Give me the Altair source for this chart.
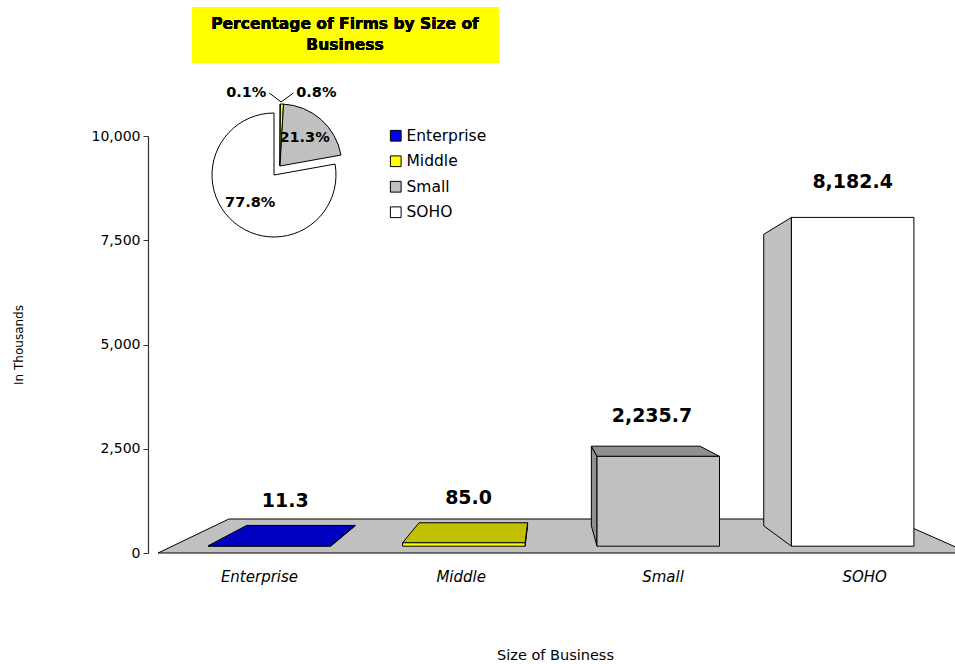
import json
import math
import altair as alt
import pandas as pd

# ---------------- data ----------------
categories = ["Enterprise", "Middle", "Small", "SOHO"]
firms_thousands = [11.3, 85.0, 2235.7, 8182.4]
face_colors = ["#0000ff", "#ffff00", "#c0c0c0", "#ffffff"]
shade_colors = ["#0000c0", "#c0c000", "#909090", "#c0c0c0"]
y_ticks = [0, 2500, 5000, 7500, 10000]
pie_title = ["Percentage of Firms by Size of", "Business"]

# ---------------- layout / style ----------------
W, H = 807, 417
PAD_L, PAD_T = 148, 136
Y_MAX = 10000
K = 0.182          # perspective shrink with depth
C0 = 0.36          # horizontal drift of the back plane (slot units)
DEPTH = 815        # floor depth expressed in value units
T_F, T_B = 0.2, 0.8
BAR_W = 0.63
SLOT_C = 0.55
FLOOR_L, FLOOR_R = 0.05, 4.07
LINE = "#000000"
FONT = "DejaVu Sans"


def px(xu, t):
    return xu * (1 - K * t) + C0 * t


def pv(v, t):
    return v * (1 - K * t) + DEPTH * t


# floor
floor_df = pd.DataFrame([
    {"y": pv(0, t), "x": px(FLOOR_L, t), "x2": px(FLOOR_R, t)} for t in (0.0, 1.0)
])

front_rows, side_rows, top_rows = [], [], []
for i, (cat, v) in enumerate(zip(categories, firms_thousands)):
    c = i + SLOT_C
    xl, xr = c - BAR_W / 2, c + BAR_W / 2
    top_visible = v < DEPTH / K
    t_lab = 0.5 if top_visible else T_F
    front_rows.append({"cat": cat, "value": v, "fill": face_colors[i],
                       "x": px(xl, T_F), "x2": px(xr, T_F),
                       "y": pv(0, T_F), "y2": pv(v, T_F),
                       "lx": px(c, t_lab), "ly": pv(v, t_lab)})
    xs = xl if c > C0 / K else xr
    for t in (T_F, T_B):
        side_rows.append({"cat": cat, "shade": shade_colors[i], "x": px(xs, t),
                          "y": pv(0, t), "y2": pv(v, t)})
    if top_visible:
        for t in (T_F, T_B):
            top_rows.append({"cat": cat, "shade": shade_colors[i], "y": pv(v, t),
                             "x": px(xl, t), "x2": px(xr, t)})

front_df = pd.DataFrame(front_rows)
side_df = pd.DataFrame(side_rows)
top_df = pd.DataFrame(top_rows)

label_expr = f"{json.dumps(categories)}[round(datum.value - {SLOT_C})]"
x_axis = alt.Axis(values=[i + SLOT_C for i in range(len(categories))], labelExpr=label_expr,
                  domain=False, ticks=False, grid=False, labelAngle=0,
                  labelFont=FONT, labelFontStyle="italic", labelFontSize=15,
                  labelColor="black", labelPadding=16, labelFlush=False, labelOverlap=False,
                  title="Size of Business", titleFont=FONT, titleFontSize=14.5,
                  titleFontWeight="normal", titleColor="black",
                  titleX=407, titleY=102, titleBaseline="middle", titleAlign="center")
y_axis = alt.Axis(values=y_ticks, format=",.0f", grid=False,
                  domainColor="#333333", tickColor="#333333", tickSize=5, domainWidth=1.2,
                  labelFont=FONT, labelFontSize=14, labelColor="black", labelPadding=3,
                  title="In Thousands", titleFont=FONT, titleFontSize=12,
                  titleFontWeight="normal", titleColor="black", titleAngle=-90,
                  titleX=-130, titleY=H / 2, titleAlign="center", titleBaseline="middle")

xs_scale = alt.Scale(domain=[0, 4], nice=False, zero=False)
ys_scale = alt.Scale(domain=[0, Y_MAX], nice=False)


def X(field="x"):
    return alt.X(f"{field}:Q", scale=xs_scale, axis=x_axis, stack=None, title="Size of Business")


def Y(field="y"):
    return alt.Y(f"{field}:Q", scale=ys_scale, axis=y_axis, stack=None, title="In Thousands")


floor = alt.Chart(floor_df).mark_area(orient="horizontal", fill="#c0c0c0", stroke=LINE,
                                      strokeWidth=1).encode(
    y=Y(), x=X(), x2="x2:Q")

sides = alt.Chart(side_df).mark_area(orient="vertical", stroke=LINE, strokeWidth=1).encode(
    x=X(), y=Y(), y2="y2:Q", detail="cat:N", fill=alt.Fill("shade:N", scale=None))

tops = alt.Chart(top_df).mark_area(orient="horizontal", stroke=LINE, strokeWidth=1).encode(
    y=Y(), x=X(), x2="x2:Q", detail="cat:N", fill=alt.Fill("shade:N", scale=None))

fronts = alt.Chart(front_df).mark_rect(stroke=LINE, strokeWidth=1).encode(
    x=X(), x2="x2:Q", y=Y(), y2="y2:Q", fill=alt.Fill("fill:N", scale=None))

value_labels = alt.Chart(front_df).mark_text(font=FONT, fontWeight="bold", fontSize=19,
                                             baseline="middle", dy=-35, color="black").encode(
    x=X("lx"), y=Y("ly"), text=alt.Text("value:Q", format=",.1f"))

bars = alt.layer(floor, sides, tops, fronts, value_labels)

# ---------------- inset pie ----------------
PIE_R = 62
PIE_C = (132, 30)          # relative to plot origin
SOHO_C = (126, 39)         # exploded SOHO slice
pie_df = pd.DataFrame({"cat": categories, "value": firms_thousands, "idx": list(range(4))})

fill_enc = alt.Fill("cat:N", scale=alt.Scale(domain=categories, range=face_colors),
                    legend=alt.Legend(title=None, orient="none", legendX=240, legendY=-8,
                                      symbolType="square", symbolSize=115,
                                      symbolStrokeColor="black", symbolStrokeWidth=1,
                                      symbolOpacity=1, labelFont=FONT, labelFontSize=15.5,
                                      labelColor="black", rowPadding=8.5, labelOffset=3,
                                      padding=0))


def pie_layer(center, show_soho):
    test = "datum.cat === 'SOHO'" if show_soho else "datum.cat !== 'SOHO'"
    return alt.Chart(pie_df).mark_arc(radius=PIE_R, stroke="black", strokeWidth=1).encode(
        theta=alt.Theta("value:Q", stack=True),
        order=alt.Order("idx:Q", sort="ascending"),
        fill=fill_enc,
        opacity=alt.condition(test, alt.value(1), alt.value(0)),
        x=alt.value(center[0]), y=alt.value(center[1]),
    )


total = sum(firms_thousands)
cum = 0.0
plabel_rows, leader_rows = [], []
for i, (cat, v) in enumerate(zip(categories, firms_thousands)):
    mid = (cum + v / 2) / total * 2 * math.pi
    cum += v
    txt = f"{v / total * 100:.1f}%"
    cx, cy = SOHO_C if cat == "SOHO" else PIE_C
    if v / total > 0.05:
        r = 37
        plabel_rows.append({"px": cx + r * math.sin(mid), "py": cy - r * math.cos(mid), "t": txt})
    else:
        side = -1 if i == 0 else 1
        ly = cy - 73
        lx = cx + math.sin(mid) * 73 + side * 34
        plabel_rows.append({"px": lx, "py": ly, "t": txt})
        leader_rows.append({"x": lx - side * 23, "y": ly,
                            "x2": cx + (PIE_R + 2) * math.sin(mid) - side * 1,
                            "y2": cy - (PIE_R + 2) * math.cos(mid)})

plabel_df = pd.DataFrame(plabel_rows)
leader_df = pd.DataFrame(leader_rows)

pie_labels = alt.Chart(plabel_df).mark_text(font=FONT, fontWeight="bold", fontSize=14.5,
                                            baseline="middle", color="black").encode(
    x=alt.X("px:Q", scale=None, axis=None), y=alt.Y("py:Q", scale=None, axis=None), text="t:N")

leaders = alt.Chart(leader_df).mark_rule(color="black", strokeWidth=1).encode(
    x=alt.X("x:Q", scale=None, axis=None), y=alt.Y("y:Q", scale=None, axis=None),
    x2="x2:Q", y2="y2:Q")

title_box = alt.Chart(pie_df).mark_rect(fill="#ffff00").encode(
    x=alt.value(192 - PAD_L), x2=alt.value(499 - PAD_L),
    y=alt.value(7 - PAD_T), y2=alt.value(63 - PAD_T))

title_text = alt.Chart(pie_df).mark_text(font=FONT, fontWeight="bold", fontSize=15.5,
                                         baseline="top", align="center", lineHeight=21,
                                         color="black").encode(
    x=alt.value(345 - PAD_L), y=alt.value(17 - PAD_T), text=alt.value(pie_title))

pie = alt.layer(title_box, title_text, pie_layer(PIE_C, False), pie_layer(SOHO_C, True),
                leaders, pie_labels)

chart = alt.layer(bars, pie).resolve_scale(x="independent", y="independent").properties(
    width=W, height=H,
    padding={"left": PAD_L, "top": PAD_T, "right": 955 - PAD_L - W, "bottom": 664 - PAD_T - H},
    autosize=alt.AutoSizeParams(type="none"),
    background="white",
).configure_view(stroke=None)

chart.save("out.html", embed_options={"renderer": "svg", "actions": False})
